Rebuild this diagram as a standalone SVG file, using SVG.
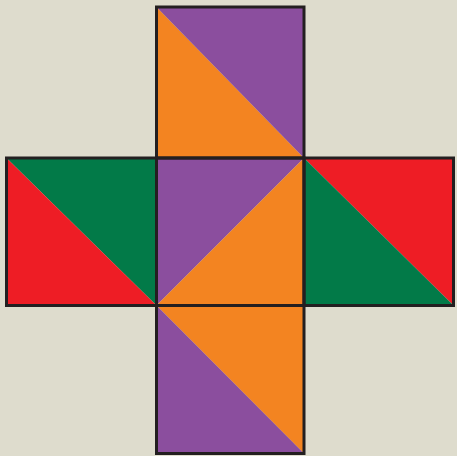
<svg xmlns="http://www.w3.org/2000/svg" width="457" height="456" viewBox="0 0 457 456">
<style>
.p{fill:#8B4E9E}.o{fill:#F38421}.g{fill:#027A48}.r{fill:#EE1D25}
.b{fill:none;stroke:#231F20;stroke-width:3}
</style>
<rect width="457" height="456" fill="#DEDCCD"/>
<g id="top">
<polygon class="o" points="156.5,7 304,158 156.5,158"/>
<polygon class="p" points="156.5,7 304,7 304,158"/>
</g>
<g id="left">
<polygon class="g" points="6.5,158 156.5,158 156.5,305.5"/>
<polygon class="r" points="6.5,158 156.5,305.5 6.5,305.5"/>
</g>
<g id="center">
<polygon class="p" points="156.5,158 304,158 156.5,305.5"/>
<polygon class="o" points="304,158 304,305.5 156.5,305.5"/>
</g>
<g id="right">
<polygon class="r" points="304,158 453.5,158 453.5,305.5"/>
<polygon class="g" points="304,158 453.5,305.5 304,305.5"/>
</g>
<g id="bottom">
<polygon class="o" points="156.5,305.5 304,305.5 304,453.5"/>
<polygon class="p" points="156.5,305.5 304,453.5 156.5,453.5"/>
</g>
<g id="borders">
<rect class="b" x="156.5" y="7" width="147.5" height="151"/>
<rect class="b" x="6.5" y="158" width="150" height="147.5"/>
<rect class="b" x="156.5" y="158" width="147.5" height="147.5"/>
<rect class="b" x="304" y="158" width="149.5" height="147.5"/>
<rect class="b" x="156.5" y="305.5" width="147.5" height="148"/>
</g>
</svg>
